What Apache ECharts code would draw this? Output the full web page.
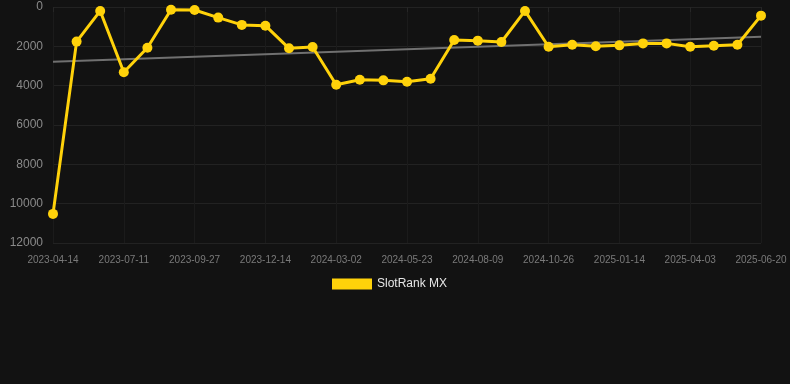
<!DOCTYPE html>
<html>
<head>
<meta charset="utf-8">
<script src="https://cdn.jsdelivr.net/npm/echarts@6/dist/echarts.min.js"></script>
<style>
	html, body { margin: 0; padding: 0; background: #121212; }
	#chart { width: 790px; height: 384px; }
</style>
</head>
<body>
<div id="chart"></div>
<script type="text/javascript">
	// dates (only every 3rd one is shown as a label)
	var dates = [
		'2023-04-14', '2023-05-13', '2023-06-11', '2023-07-11', '2023-08-06', '2023-09-01',
		'2023-09-27', '2023-10-23', '2023-11-18', '2023-12-14', '2024-01-09', '2024-02-05',
		'2024-03-02', '2024-03-29', '2024-04-26', '2024-05-23', '2024-06-18', '2024-07-14',
		'2024-08-09', '2024-09-04', '2024-09-30', '2024-10-26', '2024-11-22', '2024-12-18',
		'2025-01-14', '2025-02-09', '2025-03-08', '2025-04-03', '2025-04-29', '2025-05-25',
		'2025-06-20'
	];
	// rank values
	var rankMX = [
		10520, 1760, 200, 3320, 2070, 140, 150, 540, 910, 950,
		2100, 2030, 3950, 3700, 3730, 3800, 3650, 1680, 1710, 1780,
		200, 2020, 1920, 2000, 1950, 1850, 1850, 2020, 1970, 1920,
		440
	];
	// trend line ends
	var trendStart = 2780;
	var trendEnd = 1510;

	var trendData = dates.map(function (d, i) {
		if (i === 0) return trendStart;
		if (i === dates.length - 1) return trendEnd;
		return null;
	});

	var chart = echarts.init(document.getElementById('chart'));
	var option = {
		backgroundColor: '#121212',
		animation: false,
		grid: { left: 53, right: 29, top: 7, bottom: 141 },
		legend: {
			top: 278,
			left: 332,
			data: ['SlotRank MX'],
			itemWidth: 40,
			itemHeight: 11,
			icon: 'rect',
			padding: 0,
			textStyle: { color: '#e6e6e6', fontSize: 12, fontFamily: 'Arial, Liberation Sans, sans-serif' }
		},
		xAxis: {
			type: 'category',
			data: dates,
			boundaryGap: false,
			axisLine: { show: false },
			axisTick: { show: true, interval: 2, lineStyle: { color: '#262626' } },
			axisLabel: {
				interval: 2,
				margin: 12,
				color: '#7a7a7a',
				fontSize: 10,
				fontFamily: 'Arial, Liberation Sans, sans-serif'
			},
			splitLine: { show: true, interval: 2, lineStyle: { color: '#1b1b1b' } }
		},
		yAxis: {
			type: 'value',
			inverse: true,
			min: 0,
			max: 12000,
			interval: 2000,
			axisLine: { show: false },
			axisTick: { show: false },
			axisLabel: {
				color: '#8a8a8a',
				fontSize: 12,
				margin: 10,
				formatter: function (v) { return String(v); },
				fontFamily: 'Arial, Liberation Sans, sans-serif'
			},
			splitLine: { lineStyle: { color: '#222222' } }
		},
		series: [
			{
				name: 'trend',
				type: 'line',
				data: trendData,
				connectNulls: true,
				symbol: 'none',
				lineStyle: { color: '#707070', width: 2 },
				z: 1
			},
			{
				name: 'SlotRank MX',
				type: 'line',
				data: rankMX,
				symbol: 'circle',
				symbolSize: 10,
				itemStyle: { color: '#ffd20a' },
				lineStyle: { color: '#ffd20a', width: 3 },
				z: 2
			}
		]
	};
	chart.setOption(option);
	window.onresize = function () {
		chart.resize();
	};
</script>
</body>
</html>
